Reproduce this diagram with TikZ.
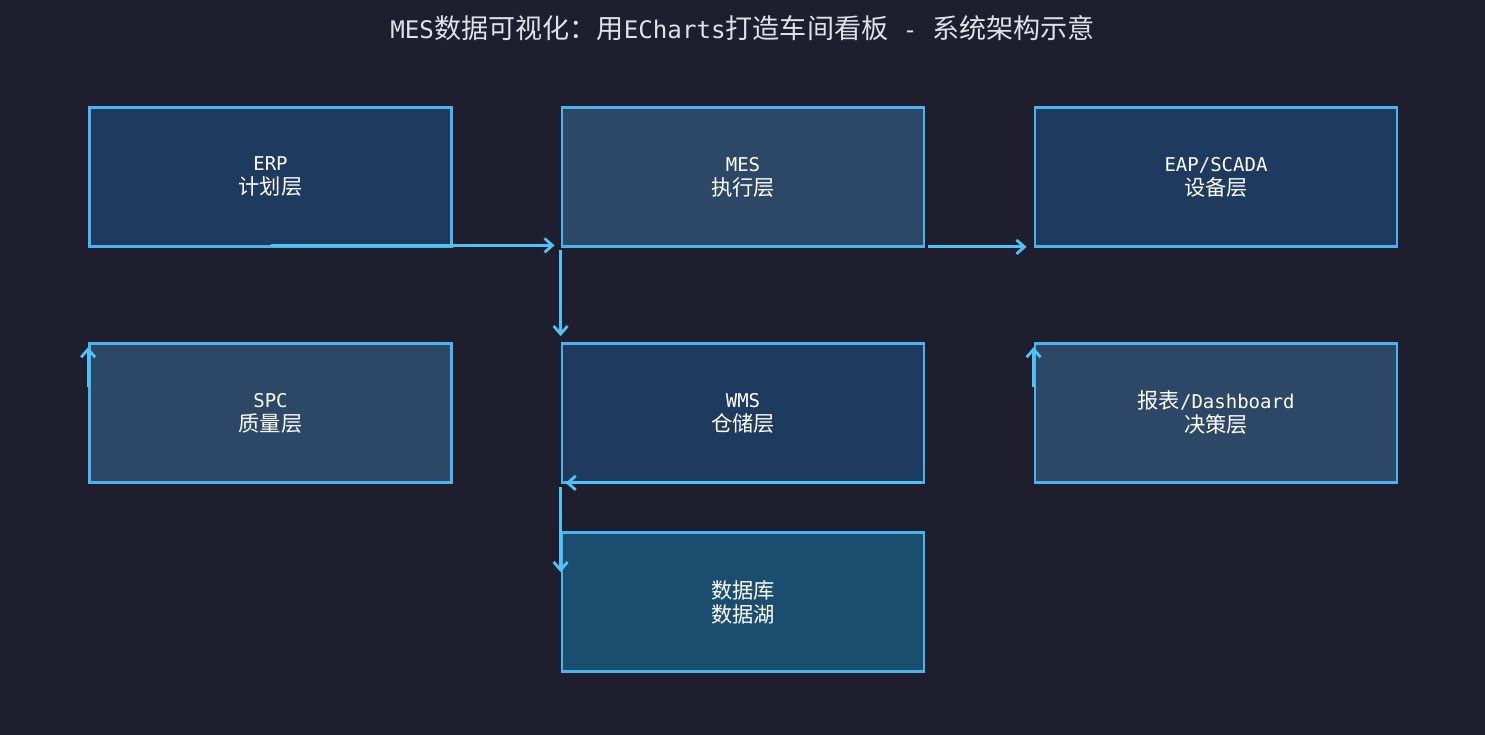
\documentclass[tikz,border=0pt]{standalone}
\usepackage{fontspec}
\usepackage{xcolor}
\usetikzlibrary{arrows.meta}
\newfontfamily\monofont{DejaVu Sans Mono}
\newfontfamily\cjk[Scale=1.12]{Noto Sans CJK SC}
\definecolor{bgdark}{HTML}{1E1E2E}
\definecolor{layerA}{HTML}{1E3A5F}
\definecolor{layerB}{HTML}{2C4866}
\definecolor{layerDB}{HTML}{1B4D6E}
\definecolor{edgeblue}{HTML}{4AB4EE}
\definecolor{flowblue}{HTML}{4FC3F7}
\definecolor{titlegray}{HTML}{E0E0E8}

\begin{document}
\begin{tikzpicture}
  [x=1pt,y=-1pt,
   every node/.style={rectangle,draw=edgeblue,line width=2.8pt,text=white,
     minimum width=362pt,minimum height=139pt,align=center,
     font=\monofont\fontsize{19}{24}\selectfont},
   flow/.style={draw=flowblue,line width=3pt,
     -{Straight Barb[length=8pt,width=14pt,line width=2.8pt]}}]
  \fill[bgdark] (0,0) rectangle (1485,735);
  \node[draw=none,minimum width=0pt,minimum height=0pt,text=titlegray,
    font=\monofont\fontsize{24.2}{30}\selectfont] (title) at (742.5,28)
    {MES{\cjk 数据可视化：用}ECharts{\cjk 打造车间看板} - {\cjk 系统架构示意}};
  \node[fill=layerA]  (erp) at (270.5,177) {ERP\\{\cjk 计划层}};
  \node[fill=layerB]  (mes) at (743,177)   {MES\\{\cjk 执行层}};
  \node[fill=layerA]  (eap) at (1216,177)  {EAP/SCADA\\{\cjk 设备层}};
  \node[fill=layerB]  (spc) at (270.5,413) {SPC\\{\cjk 质量层}};
  \node[fill=layerA]  (wms) at (743,413)   {WMS\\{\cjk 仓储层}};
  \node[fill=layerB]  (bi)  at (1216,413)  {{\cjk 报表}/Dashboard\\{\cjk 决策层}};
  \node[fill=layerDB] (db)  at (743,602)   {{\cjk 数据库}\\{\cjk 数据湖}};
  % data flows
  \draw[flow] ([yshift=2.5pt]erp.south) -- ([xshift=-6pt,yshift=2.5pt]mes.south west);
  \draw[flow] ([xshift=3pt,yshift=1pt]mes.south east) -- ([xshift=-7pt,yshift=1pt]eap.south west);
  \draw[flow] ([yshift=-2pt]mes.south west) -- ([yshift=6pt]wms.north west);
  \draw[flow] ([yshift=-45pt]spc.north west) -- ([yshift=-5pt]spc.north west);
  \draw[flow] ([yshift=-45pt]bi.north west) -- ([yshift=-5pt]bi.north west);
  \draw[flow] ([xshift=-4pt,yshift=1pt]wms.south east) -- ([xshift=5pt,yshift=1pt]wms.south west);
  \draw[flow] ([yshift=-3pt]wms.south west) -- ([yshift=-41pt]db.north west);
\end{tikzpicture}
\end{document}
